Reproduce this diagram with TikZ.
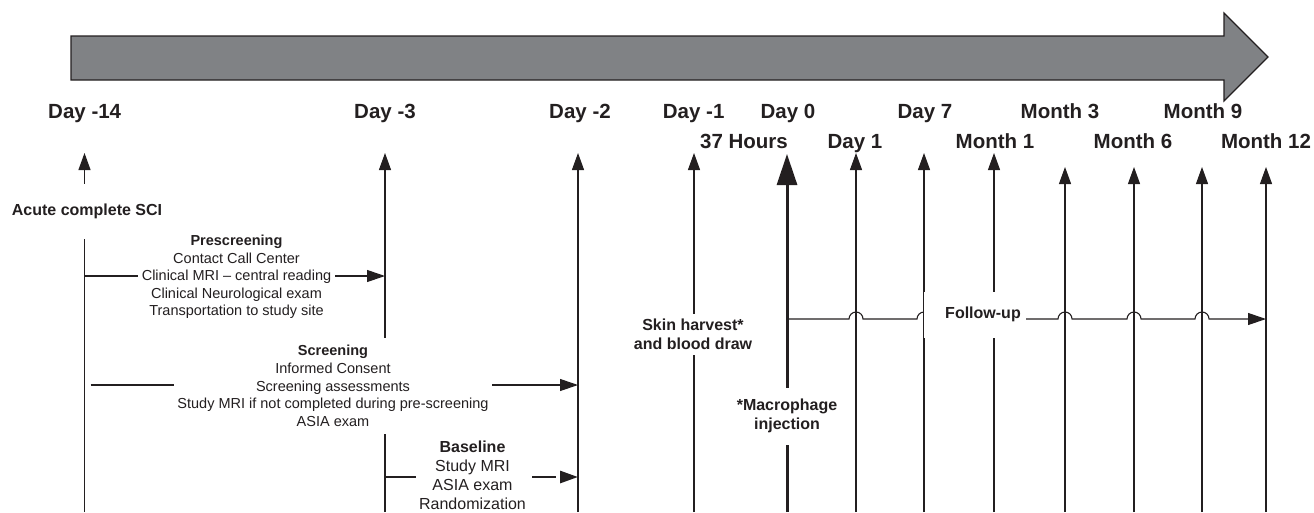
\documentclass[tikz,border=0pt]{standalone}
\usepackage{fontspec}
\setmainfont{Liberation Sans}
\usetikzlibrary{arrows.meta}
\definecolor{ink}{HTML}{231F20}
\definecolor{bar}{HTML}{808285}
\begin{document}
\begin{tikzpicture}[x=1pt,y=-1pt,
  every node/.style={text=ink, inner sep=0pt},
  toplabel/.style={font=\fontsize{20.5}{24}\selectfont\bfseries, anchor=base},
  evlabel/.style={font=\fontsize{16}{19}\selectfont\bfseries, align=center, fill=white},
  blocktext/.style={font=\fontsize{14.5}{17.6}\selectfont, align=center, fill=white},
  baseblock/.style={font=\fontsize{16}{19}\selectfont, align=center},
  thinarrow/.style={draw=ink, line width=1.1pt, -{Triangle[length=17pt,width=12pt]}},
  thickarrow/.style={draw=ink, line width=3pt, -{Triangle[length=31pt,width=20pt]}},
  harrow/.style={draw=ink, line width=1.1pt, -{Triangle[length=18pt,width=12pt]}},
  dasharrow/.style={draw=ink, line width=2.8pt, -{Triangle[length=18pt,width=12pt]},
    dash pattern=on 31pt off 116pt on 24pt off 20pt},
  timebar/.style={fill=bar, draw=ink, line width=1.1pt, line join=miter}]
\useasboundingbox (0,0) rectangle (1314,512);

% time bar
\filldraw[timebar] (71,36) -- (1224,36) -- (1224,13) -- (1268,57) -- (1224,101) -- (1224,80) -- (71,80) -- cycle;

% top labels
\node[toplabel] (lD14) at (84.7,118.5) {Day -14};
\node[toplabel] (lD3)  at (385,118.5) {Day -3};
\node[toplabel] (lD2)  at (580,118.5) {Day -2};
\node[toplabel] (lD1)  at (693.7,118.5) {Day -1};
\node[toplabel] (lD0)  at (788,118.5) {Day 0};
\node[toplabel] (lD7)  at (925,118.5) {Day 7};
\node[toplabel] (lM3)  at (1060,118.5) {Month 3};
\node[toplabel] (lM9)  at (1203,118.5) {Month 9};
\node[toplabel] (l37)  at (744,148) {37 Hours};
\node[toplabel] (lDa1) at (855,148) {Day 1};
\node[toplabel] (lM1)  at (995,148) {Month 1};
\node[toplabel] (lM6)  at (1133,148) {Month 6};
\node[toplabel] (lM12) at (1266,148) {Month 12};

% line ends
\coordinate (tD14) at (84.5,153);  \coordinate (bD14) at (84.5,512);
\coordinate (tD3)  at (385,153);   \coordinate (bD3)  at (385,512);
\coordinate (tD2)  at (578,153);   \coordinate (bD2)  at (578,512);
\coordinate (tD1)  at (694,153);   \coordinate (bD1)  at (694,512);
\coordinate (tD0)  at (787,154);   \coordinate (bD0)  at (787,512);
\coordinate (tDa1) at (856,153);   \coordinate (bDa1) at (856,512);
\coordinate (tD7)  at (924,153);   \coordinate (bD7)  at (924,512);
\coordinate (tM1)  at (994,153);   \coordinate (bM1)  at (994,512);
\coordinate (tM3)  at (1065,167);  \coordinate (bM3)  at (1065,512);
\coordinate (tM6)  at (1134,167);  \coordinate (bM6)  at (1134,512);
\coordinate (tM9)  at (1202,167);  \coordinate (bM9)  at (1202,512);
\coordinate (tM12) at (1266,167);  \coordinate (bM12) at (1266,512);

% vertical arrows
\foreach \n in {D14,D3,D2,D1,Da1,D7,M1,M3,M6,M9,M12}
  \draw[thinarrow] (b\n) -- (t\n);
\draw[thickarrow] (bD0) -- (tD0);

% horizontal arrows
\coordinate (preS) at (84.5,276);  \coordinate (preE) at (385,276);
\coordinate (scrS) at (90.5,385);  \coordinate (scrE) at (578,385);
\coordinate (basS) at (385,477);   \coordinate (basE) at (578,477);
\coordinate (fuS)  at (787,319);   \coordinate (fuE)  at (1266,319);
\draw[harrow] (preS) -- (preE);
\draw[harrow] (scrS) -- (scrE);
\draw[dasharrow] (basS) -- (basE);
\draw[harrow] (fuS) -- (849,319) arc[start angle=180,end angle=360,radius=7]
  -- (917,319) arc[start angle=180,end angle=360,radius=7]
  -- (987,319) arc[start angle=180,end angle=360,radius=7]
  -- (1058,319) arc[start angle=180,end angle=360,radius=7]
  -- (1127,319) arc[start angle=180,end angle=360,radius=7]
  -- (1195,319) arc[start angle=180,end angle=360,radius=7]
  -- (fuE);

% labels over lines
\node[evlabel, minimum height=55pt, inner xsep=2pt] (acute) at (87,211.5) {Acute complete SCI};
\node[evlabel, minimum height=41pt, inner xsep=2pt] (skin) at (693,334.5) {Skin harvest*\\and blood draw};
\node[evlabel, minimum height=57pt, inner xsep=2pt] (macro) at (787,416) {*Macrophage\\injection};
\node[blocktext, inner xsep=4pt, inner ysep=3pt] (pre) at (236.5,277)
  {\textbf{Prescreening}\\Contact Call Center\\Clinical MRI -- central reading\\Clinical Neurological exam\\Transportation to study site};
\node[blocktext, inner xsep=3pt, inner ysep=7pt] (scr) at (333,386)
  {\textbf{Screening}\\Informed Consent\\Screening assessments\\Study MRI if not completed during pre-screening\\ASIA exam};
\node[baseblock] (base) at (472.5,475)
  {\textbf{Baseline}\\Study MRI\\ASIA exam\\Randomization};
\fill[white] (923.5,292) rectangle (1026,338);
\node[font=\fontsize{16}{19}\selectfont\bfseries] (fu) at (983,314) {Follow-up};
\end{tikzpicture}
\end{document}
